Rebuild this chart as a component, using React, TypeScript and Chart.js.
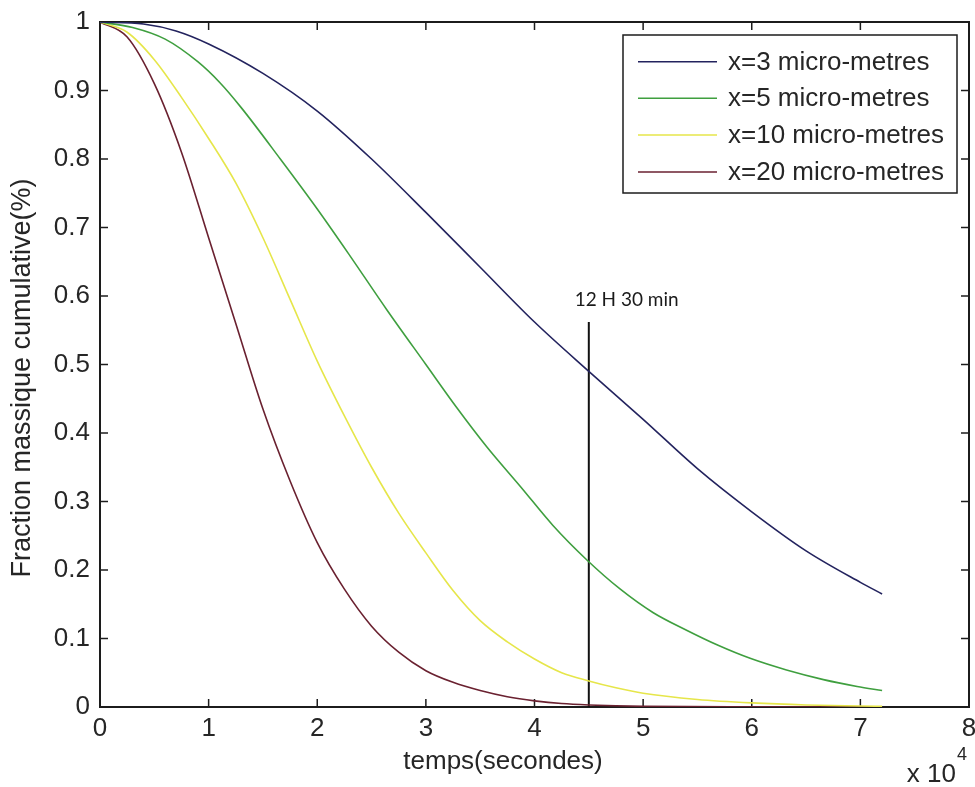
import { useEffect, useRef } from "react";
import { Chart, registerables } from "chart.js";

Chart.register(...registerables);

// ---- data ----
const SERIES_LABELS = ["x=3 micro-metres", "x=5 micro-metres", "x=10 micro-metres", "x=20 micro-metres"];
const SERIES_COLORS = ["#23235e", "#3f9f3f", "#e6e64a", "#6a2130"];

const TIME_X3 = [0, 4000, 7000, 10000, 15000, 20000, 25000, 30000, 35000, 40000, 45000, 50000, 55000, 60000, 65000, 70000, 72000];
const FRAC_X3 = [1, 0.997, 0.987, 0.968, 0.925, 0.87, 0.8, 0.722, 0.642, 0.562, 0.49, 0.42, 0.348, 0.285, 0.228, 0.182, 0.165];

const TIME_X5 = [0, 3000, 6000, 9000, 11000, 13000, 16600, 20000, 23000, 26400, 30000, 32800, 35600, 38700, 41700, 44800, 47900, 50900, 54000, 56900, 59850, 63200, 66600, 69700, 72000];
const FRAC_X5 = [1, 0.992, 0.975, 0.942, 0.912, 0.875, 0.8, 0.727, 0.659, 0.58, 0.5, 0.438, 0.38, 0.322, 0.265, 0.215, 0.172, 0.138, 0.112, 0.09, 0.071, 0.054, 0.04, 0.03, 0.024];

const TIME_X10 = [0, 2500, 5000, 7500, 10000, 12500, 15000, 17500, 20000, 22500, 25000, 27500, 30000, 32500, 35000, 37500, 40000, 42500, 45000, 47500, 50000, 55000, 60000, 65000, 70000, 72000];
const FRAC_X10 = [1, 0.985, 0.945, 0.89, 0.83, 0.765, 0.685, 0.595, 0.505, 0.425, 0.35, 0.283, 0.225, 0.17, 0.126, 0.095, 0.07, 0.05, 0.038, 0.028, 0.02, 0.011, 0.006, 0.003, 0.0015, 0.001];

const TIME_X20 = [0, 2500, 5000, 7500, 10000, 12500, 15000, 17500, 20000, 22500, 25000, 27500, 30000, 32500, 35000, 37500, 40000, 42500, 45000, 50000, 60000, 72000];
const FRAC_X20 = [1, 0.978, 0.91, 0.81, 0.685, 0.56, 0.435, 0.33, 0.24, 0.172, 0.118, 0.08, 0.053, 0.036, 0.024, 0.015, 0.009, 0.005, 0.003, 0.001, 0.0003, 0.0001];

const SERIES_TIMES = [TIME_X3, TIME_X5, TIME_X10, TIME_X20];
const SERIES_FRACS = [FRAC_X3, FRAC_X5, FRAC_X10, FRAC_X20];

const MARKER_TIME = 45000;
const MARKER_TOP = 0.562;
const MARKER_LABEL = "12 H 30 min";
const MARKER_LABEL_TIME = 43700;
const MARKER_LABEL_FRAC = 0.594;

const X_TICK_LABELS = ["0", "1", "2", "3", "4", "5", "6", "7", "8"];
const Y_TICK_LABELS = ["0", "0.1", "0.2", "0.3", "0.4", "0.5", "0.6", "0.7", "0.8", "0.9", "1"];
const X_TITLE = "temps(secondes)";
const Y_TITLE = "Fraction massique cumulative(%)";
const X_MULT_BASE = "x 10";
const X_MULT_EXP = "4";

// ---- styles ----
const FONT_FAMILY = "'Liberation Sans', Arial, sans-serif";
const FONT_SIZE = 26;
const TEXT_COLOR = "#262626";
const AXIS_COLOR = "#1c1c1c";
const TICK_LEN = 8;

const framePlugin = {
  id: "frame",
  beforeDatasetsDraw(chart: any) {
    const { ctx, chartArea: a, scales } = chart;
    ctx.save();
    ctx.strokeStyle = AXIS_COLOR;
    ctx.lineWidth = 2;
    ctx.strokeRect(a.left, a.top, a.right - a.left, a.bottom - a.top);
    ctx.lineWidth = 1.5;
    const seg = (x1: number, y1: number, x2: number, y2: number) => {
      ctx.beginPath();
      ctx.moveTo(x1, y1);
      ctx.lineTo(x2, y2);
      ctx.stroke();
    };
    scales.x.ticks.forEach((t: any) => {
      const px = scales.x.getPixelForValue(t.value);
      if (px <= a.left + 1 || px >= a.right - 1) return;
      seg(px, a.bottom, px, a.bottom - TICK_LEN);
      seg(px, a.top, px, a.top + TICK_LEN);
    });
    scales.y.ticks.forEach((t: any) => {
      const py = scales.y.getPixelForValue(t.value);
      if (py <= a.top + 1 || py >= a.bottom - 1) return;
      seg(a.left, py, a.left + TICK_LEN, py);
      seg(a.right, py, a.right - TICK_LEN, py);
    });
    ctx.restore();
  },
  afterDatasetsDraw(chart: any) {
    const { ctx, scales } = chart;
    ctx.save();
    // marker label
    ctx.fillStyle = "#1a1a1a";
    ctx.font = "19px Lato, 'Open Sans', sans-serif";
    ctx.textAlign = "left";
    ctx.textBaseline = "middle";
    ctx.fillText(MARKER_LABEL, scales.x.getPixelForValue(MARKER_LABEL_TIME), scales.y.getPixelForValue(MARKER_LABEL_FRAC));

    // legend box
    const bx = 623, by = 35, bw = 957 - 623, bh = 193 - 35;
    ctx.fillStyle = "#ffffff";
    ctx.fillRect(bx, by, bw, bh);
    ctx.strokeStyle = AXIS_COLOR;
    ctx.lineWidth = 1.5;
    ctx.strokeRect(bx, by, bw, bh);
    const rows = [61.7, 98.3, 135, 172];
    ctx.font = `${FONT_SIZE}px ${FONT_FAMILY}`;
    ctx.textBaseline = "middle";
    chart.data.datasets.forEach((ds: any, i: number) => {
      if (ds.hideInLegend) return;
      const y = rows[i];
      ctx.strokeStyle = ds.borderColor;
      ctx.lineWidth = 1.6;
      ctx.beginPath();
      ctx.moveTo(638, y);
      ctx.lineTo(717, y);
      ctx.stroke();
      ctx.fillStyle = TEXT_COLOR;
      ctx.fillText(ds.label, 728, y + 1);
    });
    ctx.restore();
  },
  afterDraw(chart: any) {
    const { ctx } = chart;
    ctx.save();
    ctx.fillStyle = TEXT_COLOR;
    // axis titles
    ctx.font = `${FONT_SIZE}px ${FONT_FAMILY}`;
    ctx.textAlign = "center";
    ctx.textBaseline = "middle";
    ctx.fillText(X_TITLE, 503, 762);
    ctx.save();
    ctx.translate(23, 378);
    ctx.rotate(-Math.PI / 2);
    ctx.font = `27px ${FONT_FAMILY}`;
    ctx.fillText(Y_TITLE, 0, 0);
    ctx.restore();
    // multiplier
    ctx.textBaseline = "alphabetic";
    ctx.textAlign = "right";
    ctx.font = `${FONT_SIZE}px ${FONT_FAMILY}`;
    ctx.fillText(X_MULT_BASE, 956, 782);
    ctx.textAlign = "left";
    ctx.font = `18px ${FONT_FAMILY}`;
    ctx.fillText(X_MULT_EXP, 957, 760);
    ctx.restore();
  },
};

export default function App() {
  const canvasRef = useRef<HTMLCanvasElement | null>(null);

  useEffect(() => {
    const canvas = canvasRef.current;
    if (!canvas) return;

    const datasets: any[] = SERIES_LABELS.map((label, i) => ({
      label,
      data: SERIES_TIMES[i].map((t, j) => ({ x: t, y: SERIES_FRACS[i][j] })),
      borderColor: SERIES_COLORS[i],
      backgroundColor: SERIES_COLORS[i],
      borderWidth: 1.6,
      pointRadius: 0,
      cubicInterpolationMode: "monotone",
      fill: false,
    }));
    datasets.push({
      label: "marker",
      hideInLegend: true,
      data: [
        { x: MARKER_TIME, y: 0 },
        { x: MARKER_TIME, y: MARKER_TOP },
      ],
      borderColor: "#111111",
      borderWidth: 2,
      pointRadius: 0,
      tension: 0,
      fill: false,
    });

    const chart = new Chart(canvas, {
      type: "line",
      data: { datasets },
      plugins: [framePlugin],
      options: {
        responsive: false,
        animation: false,
        layout: { padding: { left: 0, top: 22, right: 6, bottom: 0 } },
        plugins: {
          legend: { display: false },
          tooltip: { enabled: false },
          title: { display: false },
        },
        scales: {
          x: {
            type: "linear",
            min: 0,
            max: 80000,
            grid: { display: false, drawTicks: false },
            border: { display: false },
            ticks: {
              stepSize: 10000,
              padding: 6,
              maxRotation: 0,
              autoSkip: false,
              color: TEXT_COLOR,
              font: { family: FONT_FAMILY, size: FONT_SIZE },
              callback: (v: any) => X_TICK_LABELS[Math.round(Number(v) / 10000)] ?? "",
            },
            title: { display: false },
            afterFit: (s: any) => {
              s.height = 80;
              s.paddingLeft = 0;
              s.paddingRight = 0;
            },
          },
          y: {
            type: "linear",
            min: 0,
            max: 1,
            grid: { display: false, drawTicks: false },
            border: { display: false },
            ticks: {
              stepSize: 0.1,
              padding: 10,
              autoSkip: false,
              color: TEXT_COLOR,
              font: { family: FONT_FAMILY, size: FONT_SIZE },
              callback: (v: any) => Y_TICK_LABELS[Math.round(Number(v) * 10)] ?? "",
            },
            title: { display: false },
            afterFit: (s: any) => {
              s.width = 100;
              s.paddingTop = 0;
              s.paddingBottom = 0;
            },
          },
        },
      } as any,
    });
    return () => chart.destroy();
  }, []);

  return (
    <div style={{ position: "fixed", left: 0, top: 0, width: 975, height: 787, background: "#ffffff" }}>
      <canvas ref={canvasRef} width={975} height={787} style={{ display: "block" }} />
    </div>
  );
}
